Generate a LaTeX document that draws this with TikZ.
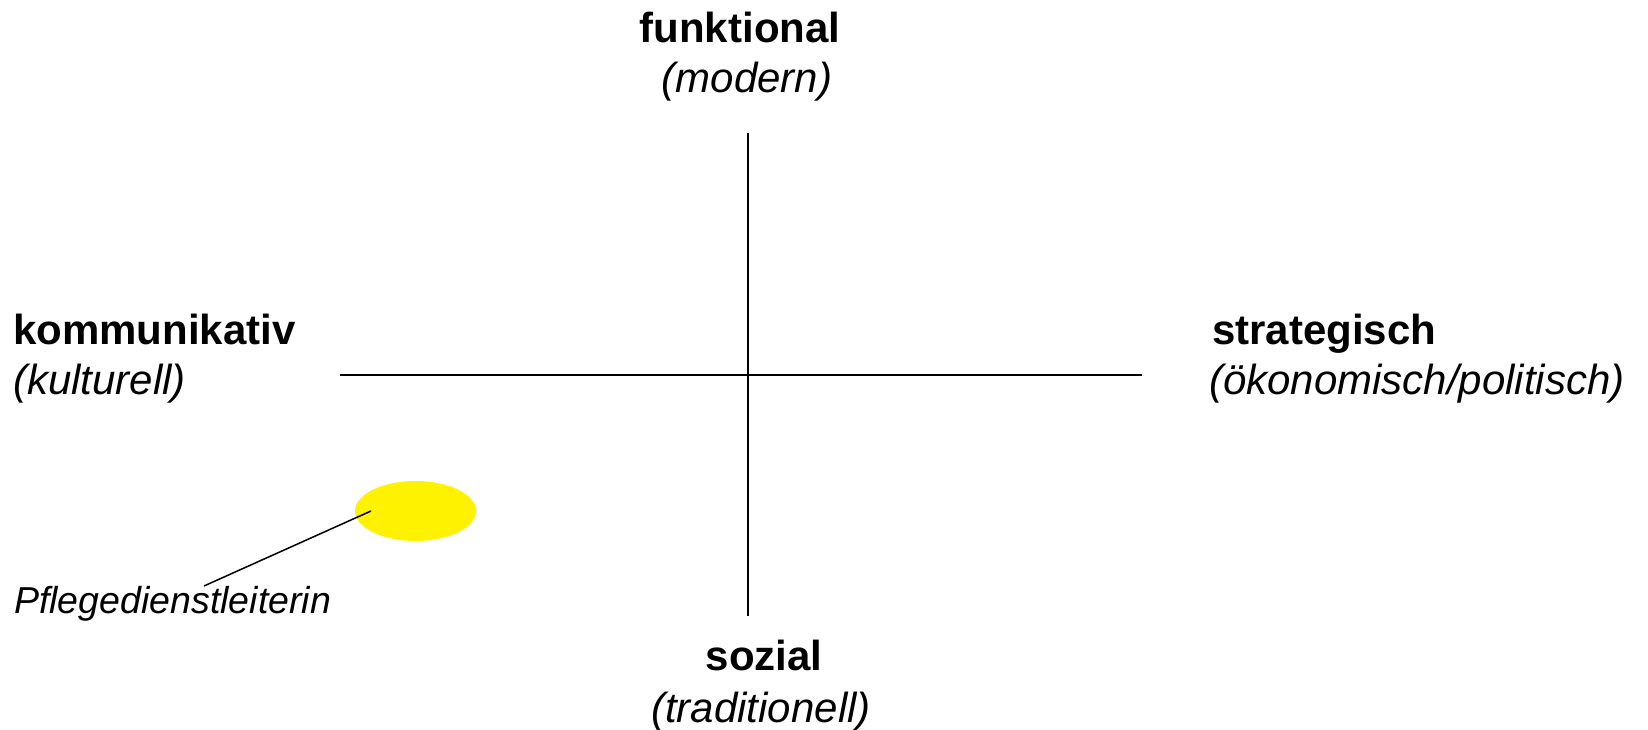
\documentclass[tikz,border=0pt]{standalone}
\usepackage{fontspec}
\setmainfont{Liberation Sans}
\usepackage{tikz}
\usetikzlibrary{shapes.geometric, positioning}

\tikzset{
  axis/.style={line width=2pt, black},
  pole/.style={inner sep=0pt, font=\fontsize{42}{50}\selectfont\bfseries},
  polesub/.style={inner sep=0pt, font=\fontsize{42}{50}\selectfont\itshape},
  person/.style={inner sep=0pt, font=\fontsize{37.5}{45}\selectfont\itshape},
  spot/.style={ellipse, fill=yellow, draw=none, minimum width=121pt, minimum height=60pt}
}

\begin{document}
\begin{tikzpicture}[x=1pt, y=-1pt]
  \useasboundingbox (0,0) rectangle (1648,730);

  % axis end points
  \coordinate (N) at (748,133);
  \coordinate (S) at (748,616);
  \coordinate (W) at (340,375);
  \coordinate (E) at (1142,375);
  \draw[axis] (N) -- (S);
  \draw[axis] (W) -- (E);

  % labels of the four poles
  \node[pole, anchor=base] (funk) at (740,43) {funktional};
  \node[polesub, anchor=base] (funksub) at (747,93) {(modern)};
  \node[pole, anchor=base west] (komm) at (13,344) {kommunikativ};
  \node[polesub, anchor=base west] (kommsub) at (13,394) {(kulturell)};
  \node[pole, anchor=base west] (strat) at (1212,344) {strategisch};
  \node[polesub, anchor=base west] (stratsub) at (1209,394) {(ökonomisch/politisch)};
  \node[pole, anchor=base] (sozial) at (764,670) {sozial};
  \node[polesub, anchor=base] (sozialsub) at (761,722) {(traditionell)};

  % position of the person
  \node[spot] (pdl) at (415.5,511) {};
  \node[person, anchor=base west] (pdltext) at (14,613) {Pflegedienstleiterin};
  \coordinate (pdlin) at (371,511);
  \coordinate (pdlout) at (204,586);
  \draw[line width=1.5pt] (pdlin) -- (pdlout);
\end{tikzpicture}
\end{document}
